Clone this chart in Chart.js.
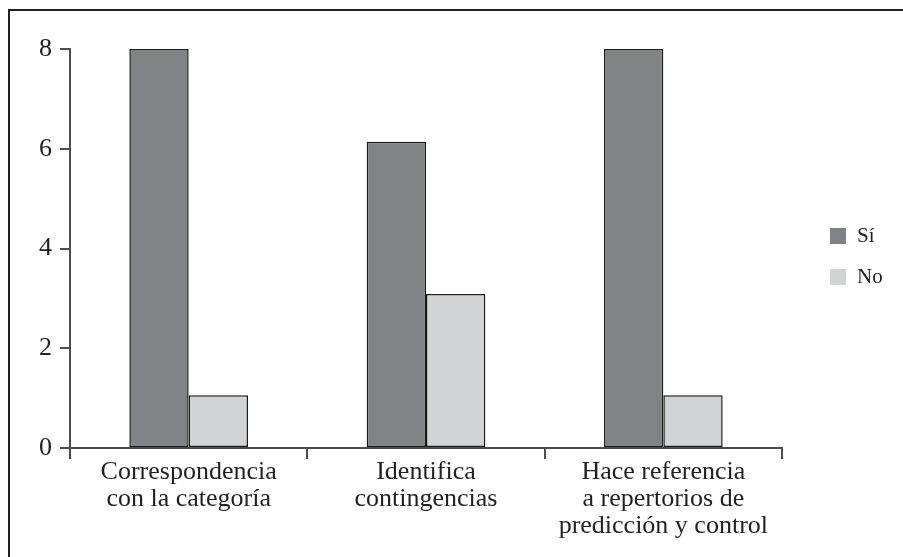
<!DOCTYPE html>
<html>
<head>
<meta charset="utf-8">
<script src="https://cdn.jsdelivr.net/npm/chart.js@4.4.1/dist/chart.umd.min.js"></script>
<style>
  html, body { margin: 0; padding: 0; background: #fff; }
  #wrap { position: relative; width: 903px; height: 557px; overflow: hidden; }
  #frame { position: absolute; left: 8px; top: 9px; width: 910px; height: 560px;
           border-top: 2px solid #231f20; border-left: 2px solid #231f20; pointer-events: none; }
  canvas { position: absolute; left: 0; top: 0; }
</style>
</head>
<body>
<div id="wrap">
  <canvas id="c" width="903" height="557"></canvas>
  <div id="frame"></div>
</div>
<script>
const categories = [
  ["Correspondencia", "con la categoría"],
  ["Identifica", "contingencias"],
  ["Hace referencia", "a repertorios de", "predicción y control"]
];
const seriesNames = ["Sí", "No"];
const siValues = [8, 6.14, 8];
const noValues = [1.06, 3.09, 1.06];
const yTicks = [0, 2, 4, 6, 8];

const FONT = "'Liberation Serif', 'DejaVu Serif', serif";
const TEXT = "#231f20";
const AXIS = "#4d4d4f";

const legendPlugin = {
  id: 'sideLegend',
  afterDraw(chart) {
    const ctx = chart.ctx;
    ctx.save();
    chart.data.datasets.forEach((ds, i) => {
      const y = 228 + i * 41;
      ctx.fillStyle = ds.backgroundColor;
      ctx.fillRect(830, y, 16, 16);
      ctx.fillStyle = TEXT;
      ctx.font = "21px " + FONT;
      ctx.textBaseline = 'middle';
      ctx.textAlign = 'left';
      ctx.fillText(ds.label, 857, y + 8);
    });
    ctx.restore();
  }
};

new Chart(document.getElementById('c'), {
  type: 'bar',
  data: {
    labels: categories,
    datasets: [
      { label: seriesNames[0], data: siValues, backgroundColor: '#808285',
        borderColor: '#1a1a1a', borderWidth: 1.5, borderSkipped: false },
      { label: seriesNames[1], data: noValues, backgroundColor: '#d1d3d4',
        borderColor: '#1a1a1a', borderWidth: 1.5, borderSkipped: false }
    ]
  },
  options: {
    responsive: false,
    animation: false,
    devicePixelRatio: 1,
    layout: { padding: { top: 49, right: 121, bottom: 0, left: 0 } },
    datasets: { bar: { categoryPercentage: 0.5, barPercentage: 1.0 } },
    plugins: { legend: { display: false }, tooltip: { enabled: false } },
    scales: {
      x: {
        grid: { offset: true, drawOnChartArea: false, drawTicks: true, tickLength: 11,
                color: AXIS, lineWidth: 2 },
        border: { display: true, color: AXIS, width: 2 },
        ticks: { color: TEXT, font: { family: FONT, size: 26, lineHeight: 1.03 },
                 padding: 0, maxRotation: 0, autoSkip: false },
        afterFit(s) { s.height = 109; }
      },
      y: {
        min: 0, max: 8,
        afterBuildTicks(s) { s.ticks = yTicks.map(v => ({ value: v })); },
        grid: { drawOnChartArea: false, drawTicks: true, tickLength: 10,
                color: AXIS, lineWidth: 2 },
        border: { display: true, color: AXIS, width: 2 },
        ticks: { color: TEXT, font: { family: FONT, size: 26 }, padding: 8 },
        afterFit(s) { s.width = 70; }
      }
    }
  },
  plugins: [legendPlugin]
});
</script>
</body>
</html>
